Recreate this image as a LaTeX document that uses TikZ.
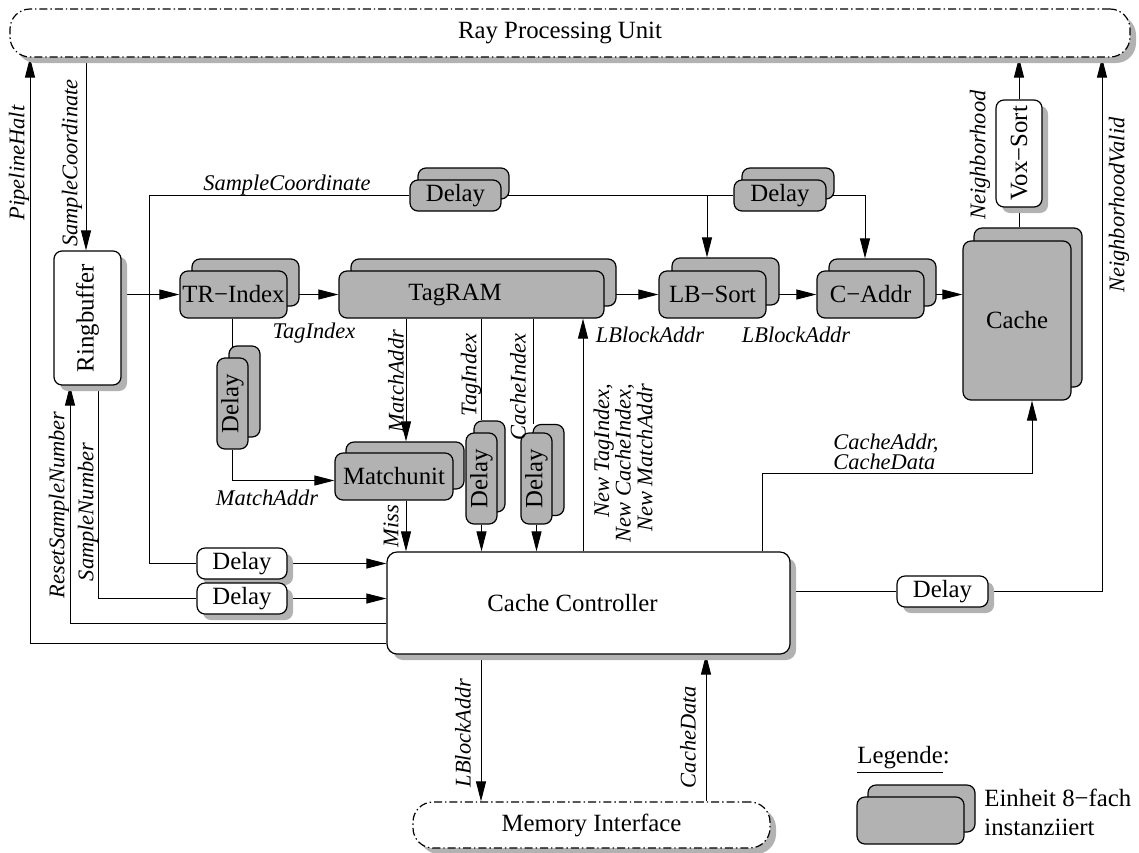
\documentclass[tikz,border=0pt]{standalone}
\usepackage{fontspec}
\setmainfont{Liberation Serif}
\usetikzlibrary{arrows.meta,shadows,backgrounds,calc}

\tikzset{
  lab/.style={font=\fontsize{11.2}{13}\selectfont\itshape, inner sep=0pt},
  arr/.style={-{Triangle[length=10pt,width=5pt]}},
  conn/.style={line width=0.5pt},
  sz/.style 2 args={minimum width=#1*0.5pt, minimum height=#2*0.5pt, inner sep=0pt},
  unitbox/.style={draw, line width=0.6pt, rounded corners=4pt, fill=black!30},
  stack/.style 2 args={unitbox,
    copy shadow={shadow xshift=#1, shadow yshift=#2, fill=black!30, draw=black, line width=0.6pt}},
  plainbox/.style={draw, line width=0.6pt, rounded corners=4pt, fill=white,
    drop shadow={shadow xshift=3pt, shadow yshift=-3pt, fill=black!30, opacity=1}},
  extbox/.style={draw, line width=0.6pt, rounded corners=10pt, fill=white,
    dash pattern=on 4pt off 1.5pt on 0.7pt off 1.5pt,
    drop shadow={shadow xshift=3pt, shadow yshift=-3pt, fill=black!30, opacity=1}},
}

\begin{document}
\begin{tikzpicture}[x=0.5pt, y=-0.5pt, font=\fontsize{12.4}{14.5}\selectfont]
\useasboundingbox (0,0) rectangle (1139,852);

% external interfaces
\node[extbox, sz={1120}{48}, label={[xshift=-5pt]center:Ray Processing Unit}] (rpu) at (570,33) {};
\node[extbox, sz={357}{46}] (mi) at (591.5,825) {Memory Interface};

% pipeline units
\node[plainbox, sz={67}{134}, label={[rotate=90]center:Ringbuffer}] (ring) at (87.5,318) {};
\node[stack={6pt}{6pt}, sz={107}{47}] (tri) at (233.5,294.5) {TR−Index};
\node[stack={6pt}{6pt}, sz={265}{47}, label={[xshift=-8.25pt]center:TagRAM}] (tagram) at (471.5,294.5) {};
\node[stack={6.5pt}{6.5pt}, sz={107}{47}] (lbs) at (712.5,294.5) {LB−Sort};
\node[stack={6pt}{6pt}, sz={107}{47}] (caddr) at (870.5,294.5) {C−Addr};
\node[stack={5.5pt}{6.5pt}, sz={108}{159}] (cache) at (1017,320.5) {Cache};
\node[plainbox, sz={46}{107}, label={[rotate=90]center:Vox−Sort}] (vox) at (1019,153.5) {};
\node[stack={4pt}{6pt}, sz={91}{31}] (dt1) at (455.5,195.5) {Delay};
\node[stack={4pt}{6pt}, sz={92}{31}] (dt2) at (780,195.5) {Delay};
\node[stack={5.5pt}{5.5pt}, sz={118}{47}] (mu) at (394,476.5) {Matchunit};
\node[stack={6pt}{6pt}, sz={31}{91}, label={[rotate=90]center:Delay}] (dv1) at (232.5,403.5) {};
\node[stack={4pt}{6pt}, sz={31}{91}, label={[rotate=90]center:Delay}] (dv2) at (481.5,478.5) {};
\node[stack={6pt}{4.25pt}, sz={31}{91}, label={[rotate=90]center:Delay}] (dv3) at (536.5,478.5) {};
\node[plainbox, rounded corners=5pt, sz={403}{102}, label={[xshift=-8pt]center:Cache Controller}] (cc) at (588.5,603) {};
\node[plainbox, sz={90}{31}] (dw1) at (242,563.5) {Delay};
\node[plainbox, sz={90}{31}] (dw2) at (242,598.5) {Delay};
\node[plainbox, sz={91}{31}] (dw3) at (942.5,591.5) {Delay};

% connectors
\begin{pgfonlayer}{background}
\begin{scope}[conn]
  \coordinate (phx) at (30,643);
  \draw[arr] (cc.west |- phx) -- (phx) -- (phx |- rpu.south);
  \coordinate (scx) at (86,0);
  \draw[arr] (scx |- rpu.south) -- (scx |- ring.north);
  \draw[arr] (ring.east |- tri.west) -- (tri.west);
  \coordinate (sj) at (149,294.5);
  \draw (sj) |- (dt1.west);
  \draw (sj) |- (dw1.west);
  \draw (dt1.east) -- (dt2.west);
  \coordinate (lj) at (707,195.5);
  \draw[arr] (lj) -- ($(lj |- lbs.north)+(0,-13)$);
  \draw[arr] (dt2.east) -| ($(caddr.north)+(-5.5,-12)$);
  \draw[arr] (tri.east) -- (tagram.west);
  \draw[arr] (tagram.east) -- (lbs.west);
  \draw[arr] (lbs.east) -- (caddr.west);
  \draw[arr] (caddr.east) -- (caddr.east -| cache.west);
  \draw (vox.south) -- ($(vox.south |- cache.north)+(0,-13)$);
  \draw[arr] (vox.north) -- (vox.north |- rpu.south);
  \draw (cc.east |- dw3.west) -- (dw3.west);
  \coordinate (nvx) at (1102,0);
  \draw[arr] (dw3.east) -| (nvx |- rpu.south);
  \draw (dv1.north |- tri.south) -- (dv1.north);
  \draw[arr] (dv1.south) |- ([yshift=-2pt]mu.west);
  \coordinate (mx) at (406,0);
  \draw[arr] (mx |- tagram.south) -- ($(mx |- mu.north)+(0,-11)$);
  \draw[arr] (mx |- mu.south) -- (mx |- cc.north);
  \draw (dv2.north |- tagram.south) -- ($(dv2.north)+(0,-12)$);
  \draw[arr] (dv2.south) -- (dv2.south |- cc.north);
  \coordinate (cix) at (533,0);
  \draw (cix |- tagram.south) -- ($(cix |- dv3.north)+(0,-8)$);
  \draw[arr] (dv3.south) -- (dv3.south |- cc.north);
  \coordinate (lbx) at (583,0);
  \draw[arr] (lbx |- cc.north) -- (lbx |- tagram.south);
  \coordinate (cal) at (762,473);
  \coordinate (car) at (1032,473);
  \draw[arr] (cal |- cc.north) -- (cal) -- (car) -- (car |- cache.south);
  \coordinate (snx) at (98,0);
  \draw (snx |- ring.south) |- (dw2.west);
  \draw[arr] (dw1.east) -- (dw1.east -| cc.west);
  \draw[arr] (dw2.east) -- (dw2.east -| cc.west);
  \coordinate (rsx) at (70,623);
  \draw[arr] (rsx -| cc.west) -- (rsx) -- (rsx |- ring.south);
  \coordinate (mdx) at (481,0);
  \draw[arr] (mdx |- cc.south) -- (mdx |- mi.north);
  \coordinate (mux) at (706,0);
  \draw[arr] (mux |- mi.north) -- (mux |- cc.south);
\end{scope}
\end{pgfonlayer}

% signal names
\node[lab, rotate=90] (lph) at (19,163) {PipelineHalt};
\node[lab, rotate=90] (lsc1) at (72,163) {SampleCoordinate};
\node[lab] (lsc2) at (287,185) {SampleCoordinate};
\node[lab] (lti1) at (314,333) {TagIndex};
\node[lab] (lma1) at (267,498) {MatchAddr};
\node[lab, rotate=90] (lma2) at (396,381) {MatchAddr};
\node[lab, rotate=90] (lti2) at (471,375) {TagIndex};
\node[lab, rotate=90] (lci) at (518,387) {CacheIndex};
\node[lab, rotate=90] (lmiss) at (391,526) {Miss};
\node[lab] (llb1) at (650,335) {LBlockAddr};
\node[lab, rotate=90, align=right, font=\fontsize{11.2}{10.8}\selectfont\itshape] (lnew) at (623,463) {New TagIndex,\\New CacheIndex,\\New MatchAddr};
\node[lab] (llb2) at (796,335) {LBlockAddr};
\node[lab, anchor=west, align=left, font=\fontsize{11.2}{10.2}\selectfont\itshape] (lcad) at (833,452) {CacheAddr,\\CacheData};
\node[lab, rotate=90] (lnb) at (980,155) {Neighborhood};
\node[lab, rotate=90] (lnv) at (1119,205) {NeighborhoodValid};
\node[lab, rotate=90] (lrs) at (59,505) {ResetSampleNumber};
\node[lab, rotate=90] (lsn) at (88,512) {SampleNumber};
\node[lab, rotate=90] (llb3) at (463,733) {LBlockAddr};
\node[lab, rotate=90] (lcd) at (688,737) {CacheData};

% legend
\node[anchor=west, inner sep=0pt] (lleg) at (857,760) {\underline{Legende}:};
\node[stack={5.5pt}{6pt}, sz={107}{47}] (leg) at (910.5,820.5) {};
\node[anchor=west, align=left, inner sep=0pt] (ltxt) at (984,812) {Einheit 8−fach\\instanziiert};
\end{tikzpicture}
\end{document}
